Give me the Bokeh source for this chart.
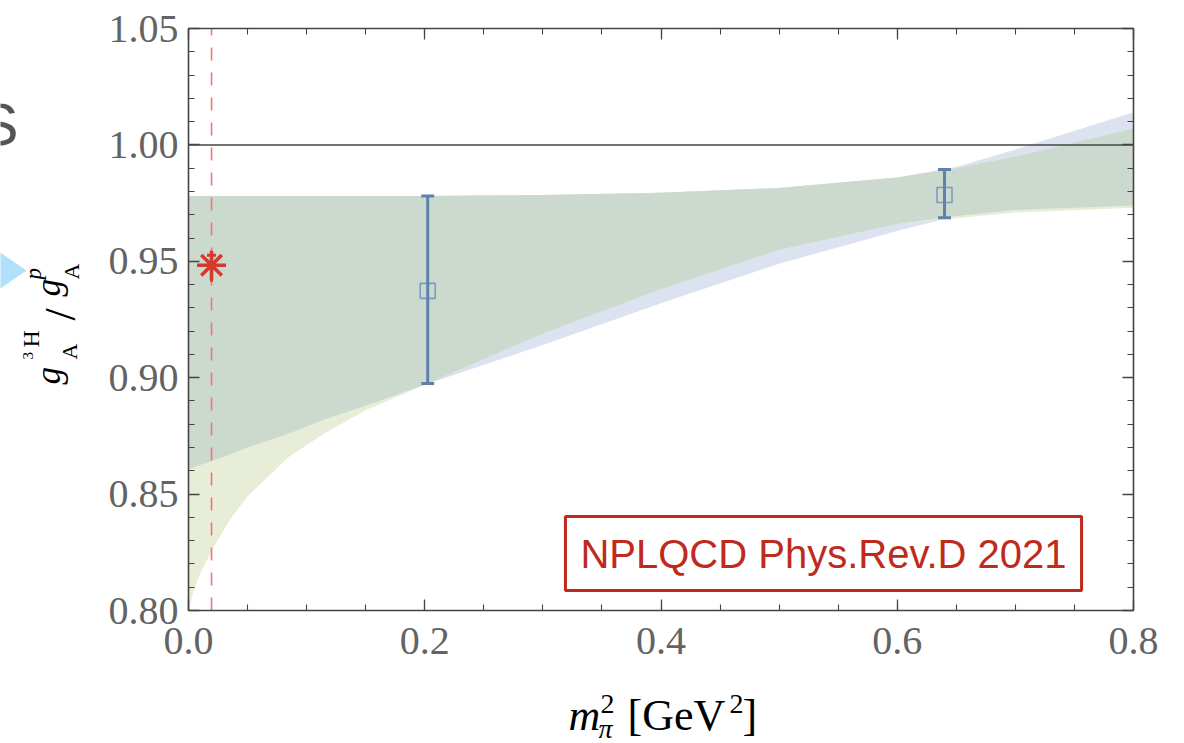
import numpy as np
from math import pi
from bokeh.plotting import figure
from bokeh.models import (FixedTicker, PrintfTickFormatter, LinearAxis, Label,
                          PolyAnnotation)
from bokeh.embed import file_html
from bokeh.resources import INLINE

# ---------------- data ----------------
band_x    = [0.0, 0.004, 0.01, 0.02, 0.035, 0.05, 0.085, 0.115, 0.15, 0.20, 0.30, 0.40, 0.50, 0.60, 0.65, 0.70, 0.80]
yellow_lo = [0.800, 0.808, 0.816, 0.826, 0.839, 0.849, 0.866, 0.876, 0.886, 0.897, 0.919, 0.938, 0.955, 0.966, 0.9685, 0.971, 0.973]
yellow_hi = [0.978, 0.978, 0.978, 0.978, 0.978, 0.978, 0.978, 0.978, 0.978, 0.978, 0.9785, 0.9794, 0.9815, 0.986, 0.990, 0.995, 1.007]
blue_lo   = [0.8607, 0.8614, 0.8625, 0.8643, 0.867, 0.870, 0.876, 0.882, 0.888, 0.897, 0.914, 0.932, 0.949, 0.963, 0.9695, 0.972, 0.974]
blue_hi   = [0.978, 0.978, 0.978, 0.978, 0.978, 0.978, 0.978, 0.978, 0.978, 0.978, 0.9785, 0.9794, 0.9815, 0.986, 0.9905, 0.998, 1.014]

lat_x  = [0.2025, 0.640]
lat_y  = [0.9373, 0.9785]
lat_lo = [0.8975, 0.9687]
lat_hi = [0.9781, 0.9894]

phys_x  = [0.0195]
phys_y  = [0.9483]
phys_lo = [0.9412]
phys_hi = [0.9526]

x_major = [0.0, 0.2, 0.4, 0.6, 0.8]
x_minor = [0.0, 0.05, 0.1, 0.15, 0.2, 0.25, 0.3, 0.35, 0.4, 0.45, 0.5, 0.55, 0.6, 0.65, 0.7, 0.75, 0.8]
y_major = [0.80, 0.85, 0.90, 0.95, 1.00, 1.05]
y_minor = [round(0.80 + 0.01 * i, 2) for i in range(26)]

ref_line = 1.0
tag_text = "NPLQCD Phys.Rev.D 2021"

# ---------------- layout geometry (pixels) ----------------
W, H = 1184, 743
FL, FR, FT, FB = 188, 1133, 28, 610          # data box edges on the canvas
x0, x1 = x_major[0], x_major[-1]
y0, y1 = y_major[0], y_major[-1]
sx = (FR - FL) / (x1 - x0)
sy = (FB - FT) / (y1 - y0)
xr = (x0 - FL / sx, x1 + (W - FR) / sx)
yr = (y0 - (H - FB) / sy, y1 + FT / sy)

p = figure(width=W, height=H, x_range=xr, y_range=yr,
           output_backend="svg", toolbar_location=None,
           min_border_left=0, min_border_right=0, min_border_top=0, min_border_bottom=0)
p.title.visible = False
p.xgrid.visible = False
p.ygrid.visible = False
p.outline_line_color = None
p.background_fill_color = "white"
p.border_fill_color = "white"

def style_axis(ax, labels=True):
    ax.axis_line_color = "#444444"
    ax.axis_line_width = 1.6
    ax.major_tick_line_color = "#444444"
    ax.minor_tick_line_color = "#444444"
    ax.major_tick_line_width = 1.3
    ax.minor_tick_line_width = 1.1
    ax.major_tick_in = 11
    ax.major_tick_out = 0
    ax.minor_tick_in = 6
    ax.minor_tick_out = 0
    ax.major_label_text_font = "Liberation Serif"
    ax.major_label_text_font_size = "40px"
    ax.major_label_text_color = "#636363"
    if not labels:
        ax.formatter = PrintfTickFormatter(format="")
        ax.major_label_standoff = 0

bx = p.xaxis[0]
bx.ticker = FixedTicker(ticks=x_major, minor_ticks=x_minor)
bx.formatter = PrintfTickFormatter(format="%.1f")
bx.fixed_location = y0
bx.bounds = (x0, x1)
style_axis(bx)
bx.major_label_standoff = 17

ly = p.yaxis[0]
ly.ticker = FixedTicker(ticks=y_major, minor_ticks=y_minor)
ly.formatter = PrintfTickFormatter(format="%.2f")
ly.fixed_location = x0
ly.bounds = (y0, y1)
style_axis(ly)
ly.major_label_standoff = 10

top_ax = LinearAxis(ticker=FixedTicker(ticks=x_major, minor_ticks=x_minor),
                    fixed_location=y1, bounds=(x0, x1))
right_ax = LinearAxis(ticker=FixedTicker(ticks=y_major, minor_ticks=y_minor),
                      fixed_location=x1, bounds=(y0, y1))
style_axis(top_ax, labels=False)
style_axis(right_ax, labels=False)
p.add_layout(top_ax, "above")
p.add_layout(right_ax, "right")

# ---------------- bands ----------------
p.varea(x=band_x, y1=blue_lo, y2=blue_hi, fill_color="#dde2f0")
p.varea(x=band_x, y1=yellow_lo, y2=yellow_hi, fill_color="#e8edd7")
p.varea(x=band_x, y1=np.maximum(blue_lo, yellow_lo), y2=np.minimum(blue_hi, yellow_hi),
        fill_color="#cbd9cf")

# reference lines
p.line(x=[x0, x1], y=[ref_line, ref_line], line_color="#444444", line_width=1.5)
p.line(x=[phys_x[0], phys_x[0]], y=[y0, y1], line_color="#f07478",
       line_dash="13 12", line_width=1.6)

# lattice points
p.scatter(lat_x, lat_y, marker="square", size=15, fill_color=None,
          line_color="#7d9bbf", line_width=1.6)
p.segment(x0=lat_x, y0=lat_lo, x1=lat_x, y1=lat_hi, line_color="#5f82ab", line_width=3)
p.scatter(lat_x + lat_x, lat_lo + lat_hi, marker="dash", size=13,
          line_color="#5f82ab", line_width=3)

# physical point
p.segment(x0=phys_x, y0=phys_lo, x1=phys_x, y1=phys_hi, line_color="#d23b2e", line_width=3)
p.scatter(phys_x, phys_hi, marker="dash", size=9, line_color="#d23b2e", line_width=3)
p.scatter(phys_x, phys_y, marker="asterisk", size=29, line_color="#d23b2e", line_width=3.6)

# tag box
p.add_layout(Label(x=823, y=H - 553, x_units="screen", y_units="screen", text=tag_text,
                   text_align="center", text_baseline="middle",
                   text_font="Liberation Sans", text_font_size="40px", text_color="#bf2a1d",
                   border_line_color="#bf2a1d", border_line_width=3,
                   background_fill_color="white", padding=15))

# ---------------- composed axis titles ----------------
def shift(size):
    return 0.25 * size + 1

def lab(txt, x, ytop, size, style="normal", rotated=False, color="black", font="Liberation Serif"):
    # x, ytop: baseline position in canvas pixels from the top-left corner
    if rotated:
        x = x - shift(size)
        ang = pi / 2
    else:
        ang = 0.0
    yb = H - ytop + (0 if rotated else shift(size))
    p.add_layout(Label(x=x, y=yb, x_units="screen", y_units="screen", text=txt,
                       text_font=font, text_font_size=f"{size}px",
                       text_font_style=style, text_color=color,
                       text_align="left", text_baseline="alphabetic", angle=ang))

# x label:  m_pi^2 [GeV^2]
lab("m", 568, 727, 44, "italic")
lab("2", 600, 711, 28)
lab("π", 598, 736, 28, "italic")
lab("[GeV", 627, 727, 44)
lab("2", 729, 711, 28)
lab("]", 742, 727, 44)

# y label:  g_A^{3H} / g_A^p   (rotated, reads bottom to top)
lab("g", 58, 384, 35, "italic", True)
lab("3", 32, 359, 15, "normal", True)
lab("H", 37, 347, 24, "normal", True)
lab("A", 75, 359, 22, "normal", True)
lab("/", 72, 320, 44, "normal", True)
lab("g", 58, 296, 35, "italic", True)
lab("p", 40, 279, 23, "italic", True)
lab("A", 77, 279, 22, "normal", True)

# ---------------- slide fragments at the left edge ----------------
lab("S", -22, 140, 60, "normal", False, "#555555", "Liberation Sans")
p.add_layout(PolyAnnotation(xs=[-25, 26, -25], ys=[H - 235, H - 270, H - 305],
                            xs_units="screen", ys_units="screen",
                            fill_color="#b0e0fa", fill_alpha=1.0, line_color=None))

open("out.html", "w").write(file_html(p, INLINE))
